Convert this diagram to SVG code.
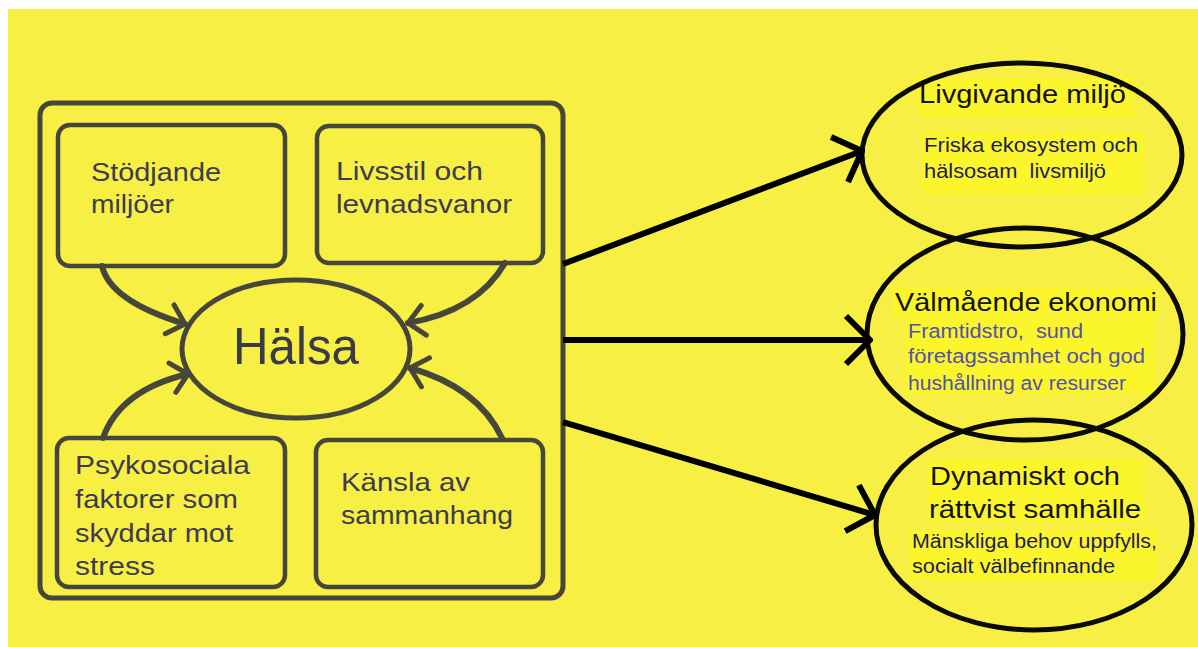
<svg xmlns="http://www.w3.org/2000/svg" width="1198" height="647" viewBox="0 0 1198 647">
<style>
.bg{fill:#f7ef43}
.frame{fill:none;stroke:#46463a;stroke-width:5}
.box{fill:none;stroke:#46463a;stroke-width:4.5}
.core{fill:none;stroke:#46463a;stroke-width:5}
.goal{fill:none;stroke:#0a0a0a;stroke-width:5}
.hl{fill:#fbf52c}
.t{font-family:"Liberation Sans",Arial,Helvetica,sans-serif}
.lbl{font-size:26px;fill:#3b3b52}
.big{font-size:52px;fill:#3a3a48}
.ttl{font-size:25px;fill:#121212}
.sub{font-size:20px;fill:#1e1e52}
.sub2{fill:#5252aa}
.in{fill:none;stroke:#46463a;stroke-width:6;stroke-linecap:round}
.out{fill:none;stroke:#000;stroke-width:6}
</style>
<defs>
<marker id="ahIn" markerUnits="userSpaceOnUse" markerWidth="40" markerHeight="40" refX="0" refY="0" orient="auto" overflow="visible">
<path d="M-16,-15 L0,0 L-16,15" fill="none" stroke="#46463a" stroke-width="5" stroke-linecap="round" stroke-linejoin="round"/>
</marker>
<marker id="ahOut" markerUnits="userSpaceOnUse" markerWidth="60" markerHeight="60" refX="0" refY="0" orient="auto" overflow="visible">
<path d="M-24,-24 L0,0 L-24,24" fill="none" stroke="#000" stroke-width="6" stroke-linecap="butt" stroke-linejoin="round"/>
</marker>
</defs>
<rect class="bg" x="8" y="9" width="1190" height="638"/>

<g id="frame">
<rect class="frame" x="40" y="103" width="523" height="495" rx="12"/>
</g>

<g id="node-stodjande">
<rect class="box" x="58" y="125" width="227" height="141" rx="12"/>
<text class="t lbl" x="91" y="181" textLength="130" lengthAdjust="spacingAndGlyphs">Stödjande</text>
<text class="t lbl" x="91" y="213" textLength="83" lengthAdjust="spacingAndGlyphs">miljöer</text>
</g>

<g id="node-livsstil">
<rect class="box" x="317" y="126" width="226" height="137" rx="12"/>
<text class="t lbl" x="336" y="180" textLength="147" lengthAdjust="spacingAndGlyphs">Livsstil och</text>
<text class="t lbl" x="336" y="213" textLength="176" lengthAdjust="spacingAndGlyphs">levnadsvanor</text>
</g>

<g id="node-psykosociala">
<rect class="box" x="57" y="438" width="228" height="149" rx="12"/>
<text class="t lbl" x="75" y="474" textLength="175" lengthAdjust="spacingAndGlyphs">Psykosociala</text>
<text class="t lbl" x="75" y="508" textLength="163" lengthAdjust="spacingAndGlyphs">faktorer som</text>
<text class="t lbl" x="75" y="542" textLength="158" lengthAdjust="spacingAndGlyphs">skyddar mot</text>
<text class="t lbl" x="75" y="575" textLength="80" lengthAdjust="spacingAndGlyphs">stress</text>
</g>

<g id="node-kansla">
<rect class="box" x="316" y="440" width="227" height="147" rx="12"/>
<text class="t lbl" x="341" y="491" textLength="129" lengthAdjust="spacingAndGlyphs">Känsla av</text>
<text class="t lbl" x="341" y="524" textLength="172" lengthAdjust="spacingAndGlyphs">sammanhang</text>
</g>

<g id="node-halsa">
<ellipse class="core" cx="296" cy="349" rx="114" ry="69"/>
<text class="t big" x="296" y="364" text-anchor="middle" textLength="126" lengthAdjust="spacingAndGlyphs">Hälsa</text>
</g>

<g id="node-livgivande">
<rect class="hl" x="917" y="78" width="217" height="39"/>
<rect class="hl" x="922" y="132" width="223" height="63"/>
<ellipse class="goal" cx="1022" cy="155" rx="160" ry="92"/>
<text class="t ttl" x="919" y="103" textLength="207" lengthAdjust="spacingAndGlyphs">Livgivande miljö</text>
<text class="t sub" x="924" y="152" textLength="214" lengthAdjust="spacingAndGlyphs">Friska ekosystem och</text>
<text class="t sub" x="924" y="178" textLength="182" lengthAdjust="spacingAndGlyphs">hälsosam&#160; livsmiljö</text>
</g>

<g id="node-valmaende">
<rect class="hl" x="892" y="287" width="266" height="30"/>
<rect class="hl" x="905" y="318" width="250" height="76"/>
<ellipse class="goal" cx="1025" cy="334" rx="158" ry="106"/>
<text class="t ttl" x="895" y="311" textLength="262" lengthAdjust="spacingAndGlyphs">Välmående ekonomi</text>
<text class="t sub sub2" x="908" y="338" textLength="175" lengthAdjust="spacingAndGlyphs">Framtidstro,&#160; sund</text>
<text class="t sub sub2" x="908" y="363" textLength="237" lengthAdjust="spacingAndGlyphs">företagssamhet och god</text>
<text class="t sub sub2" x="908" y="390" textLength="218" lengthAdjust="spacingAndGlyphs">hushållning av resurser</text>
</g>

<g id="node-dynamiskt">
<rect class="hl" x="927" y="460" width="218" height="62"/>
<rect class="hl" x="910" y="530" width="248" height="50"/>
<ellipse class="goal" cx="1034" cy="525" rx="158" ry="105"/>
<text class="t ttl" x="930" y="485" textLength="190" lengthAdjust="spacingAndGlyphs">Dynamiskt och</text>
<text class="t ttl" x="929" y="518" textLength="212" lengthAdjust="spacingAndGlyphs">rättvist samhälle</text>
<text class="t sub" x="912" y="548" textLength="245" lengthAdjust="spacingAndGlyphs">Mänskliga behov uppfylls,</text>
<text class="t sub" x="912" y="573" textLength="203" lengthAdjust="spacingAndGlyphs">socialt välbefinnande</text>
</g>

<g id="connectors">
<path class="in" d="M102,266 Q110,301 185,324" marker-end="url(#ahIn)"/>
<path class="in" d="M505,263 Q477,311 408,323" marker-end="url(#ahIn)"/>
<path class="in" d="M103,438 Q120,390 188,374" marker-end="url(#ahIn)"/>
<path class="in" d="M502,438 Q478,387 410,368" marker-end="url(#ahIn)"/>
<path class="out" d="M563,264 L862,151" marker-end="url(#ahOut)"/>
<path class="out" d="M563,340 L870,340" marker-end="url(#ahOut)"/>
<path class="out" d="M563,422 L875,515" marker-end="url(#ahOut)"/>
</g>
</svg>
